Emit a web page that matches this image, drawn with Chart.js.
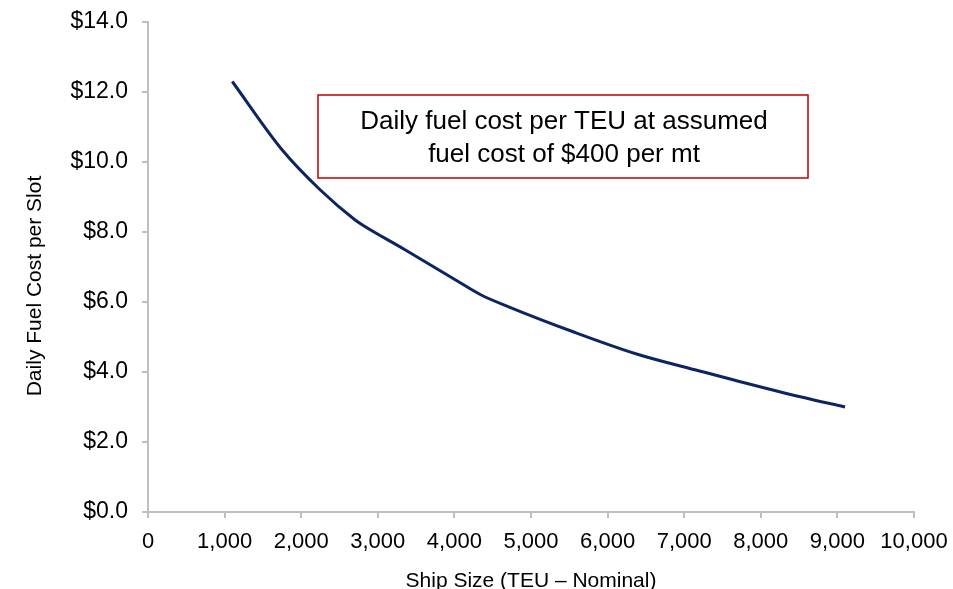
<!DOCTYPE html>
<html>
<head>
<meta charset="utf-8">
<script src="https://cdn.jsdelivr.net/npm/chart.js@4"></script>
<style>
  html, body { margin: 0; padding: 0; background: #fff; }
  #wrap { width: 953px; height: 589px; }
</style>
</head>
<body>
<div id="wrap"><canvas id="fuel-chart" width="953" height="589"></canvas></div>
<script>
// Ship size (TEU) and daily fuel cost per slot ($)
var shipSizes = [1100, 1750, 2250, 2700, 2800, 3350, 4000, 4350, 4700, 5550, 6400, 7200, 7650, 8500, 9100];
var fuelCost = [12.3, 10.35, 9.2, 8.35, 8.2, 7.5, 6.65, 6.2, 5.87, 5.15, 4.5, 4.03, 3.77, 3.3, 3.0];
var xTicks = [0, 1000, 2000, 3000, 4000, 5000, 6000, 7000, 8000, 9000, 10000];
var yTicks = [0, 2, 4, 6, 8, 10, 12, 14];
var yTitle = 'Daily Fuel Cost per Slot';
var noteLines = ['Daily fuel cost per TEU at assumed', 'fuel cost of $400 per mt'];

var axisGrey = '#bfbfbf';
var font = 'Liberation Sans, Arial, sans-serif';

// Text box and y-axis title drawn on top of the plot
var extras = {
    id: 'extras',
    afterDraw: function(chart) {
        var c = chart.ctx;
        c.save();
        c.strokeStyle = '#c00000';
        c.lineWidth = 1.5;
        c.fillStyle = '#fff';
        c.fillRect(318, 95, 490, 83);
        c.strokeRect(318, 95, 490, 83);
        c.fillStyle = '#000';
        c.font = '26px ' + font;
        c.textAlign = 'center';
        c.textBaseline = 'middle';
        c.fillText(noteLines[0], 564, 122);
        c.fillText(noteLines[1], 564, 155);

        // y title
        c.font = '21px ' + font;
        c.translate(35, 286);
        c.rotate(-Math.PI / 2);
        c.fillText(yTitle, 0, 0);
        c.restore();
    }
};

var ctx = document.getElementById('fuel-chart').getContext('2d');

var points = shipSizes.map(function(s, i) { return { x: s, y: fuelCost[i] }; });

new Chart(ctx, {
    type: 'line',
    data: {
        datasets: [{
            label: 'Daily fuel cost per slot',
            data: points,
            borderColor: '#0c2462',
            borderWidth: 3,
            pointRadius: 0,
            cubicInterpolationMode: 'monotone',
            fill: false
        }]
    },
    options: {
        responsive: false,
        animation: false,
        layout: { padding: { top: 22, right: 39, left: 0, bottom: 0 } },
        plugins: {
            legend: { display: false },
            tooltip: { enabled: false }
        },
        scales: {
            x: {
                type: 'linear',
                min: 0,
                max: 10000,
                afterBuildTicks: function(scale) {
                    scale.ticks = xTicks.map(function(v) { return { value: v }; });
                },
                afterFit: function(scale) {
                    scale.height = 77;
                    scale.paddingLeft = 0;
                    scale.paddingRight = 0;
                },
                ticks: {
                    color: '#000',
                    font: { family: font, size: 22 },
                    maxRotation: 0,
                    autoSkip: false,
                    padding: 11,
                    callback: function(v) { return v.toLocaleString('en-US'); }
                },
                grid: { drawOnChartArea: false, drawTicks: true, tickLength: 6, color: axisGrey, lineWidth: 2 },
                border: { color: axisGrey, width: 2 },
                title: {
                    display: true,
                    text: 'Ship Size (TEU \u2013 Nominal)',
                    color: '#000',
                    font: { family: font, size: 21 },
                    padding: { top: 0, bottom: -5 }
                }
            },
            y: {
                min: 0,
                max: 14,
                afterBuildTicks: function(scale) {
                    scale.ticks = yTicks.map(function(v) { return { value: v }; });
                },
                afterFit: function(scale) {
                    scale.width = 148;
                    scale.paddingTop = 0;
                    scale.paddingBottom = 0;
                },
                ticks: {
                    color: '#000',
                    font: { family: font, size: 23 },
                    padding: 14,
                    callback: function(v) { return '$' + v.toFixed(1); }
                },
                grid: { drawOnChartArea: false, drawTicks: true, tickLength: 6, color: axisGrey, lineWidth: 2 },
                border: { color: axisGrey, width: 2 }
            }
        }
    },
    plugins: [extras]
});
</script>
</body>
</html>
